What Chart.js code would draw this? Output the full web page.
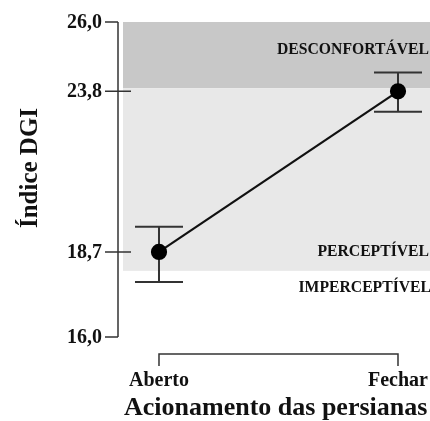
<!DOCTYPE html>
<html>
<head>
<meta charset="utf-8">
<script src="https://cdn.jsdelivr.net/npm/chart.js@4/dist/chart.umd.min.js"></script>
<style>
  html, body { margin: 0; padding: 0; background: #fff; }
  #wrap { width: 430px; height: 421px; }
</style>
</head>
<body>
<div id="wrap"><canvas id="dgiChart" width="430" height="421"></canvas></div>
<script>
// Data
const categories = ['Aberto', 'Fechar'];
const meanDGI = [18.7, 23.8];
const errLow = [17.75, 23.15];
const errHigh = [19.5, 24.4];

const yTickValues = [16.0, 18.7, 23.8, 26.0];
const yTickLabels = ['16,0', '18,7', '23,8', '26,0'];

const bandNames = ['DESCONFORTÁVEL', 'PERCEPTÍVEL'];
const bandFrom = [23.9, 18.1];
const bandTo = [26.0, 23.9];
const bandLabelValues = [25.1, 18.7];

const lowZoneName = 'IMPERCEPTÍVEL';
const lowZoneLabelValue = 17.56;

const serif = '"Liberation Serif", "DejaVu Serif", serif';

const figurePlugin = {
  id: 'figure',
  beforeDatasetsDraw(chart) {
    const { ctx, chartArea, scales: { x, y } } = chart;
    const bandColors = ['#c8c8c8', '#e8e8e8'];
    ctx.save();
    bandFrom.forEach((from, i) => {
      const top = y.getPixelForValue(bandTo[i]);
      const bottom = y.getPixelForValue(from);
      ctx.fillStyle = bandColors[i];
      ctx.fillRect(chartArea.left, top, chartArea.right - chartArea.left, bottom - top);
    });

    // band labels
    ctx.fillStyle = '#111';
    ctx.font = 'bold 15.7px ' + serif;
    ctx.textAlign = 'right';
    ctx.textBaseline = 'middle';
    bandNames.forEach((name, i) => {
      ctx.fillText(name, chartArea.right - 1, y.getPixelForValue(bandLabelValues[i]));
    });
    ctx.fillText(lowZoneName, chartArea.right + 1, y.getPixelForValue(lowZoneLabelValue));

    // error bars
    ctx.strokeStyle = '#333';
    ctx.lineWidth = 2;
    categories.forEach((c, i) => {
      const px = x.getPixelForValue(i);
      const lo = y.getPixelForValue(errLow[i]);
      const hi = y.getPixelForValue(errHigh[i]);
      ctx.beginPath();
      ctx.moveTo(px, hi); ctx.lineTo(px, lo);
      ctx.moveTo(px - 24, hi); ctx.lineTo(px + 24, hi);
      ctx.moveTo(px - 24, lo); ctx.lineTo(px + 24, lo);
      ctx.stroke();
    });
    ctx.restore();
  },
  afterDraw(chart) {
    const { ctx, chartArea, scales: { x, y } } = chart;
    ctx.save();
    ctx.strokeStyle = '#333';
    ctx.lineWidth = 1.5;

    // y axis line
    const axisX = chartArea.left - 5;
    const yTop = y.getPixelForValue(26);
    const yBot = y.getPixelForValue(16);
    ctx.beginPath();
    ctx.moveTo(axisX, yTop); ctx.lineTo(axisX, yBot);
    yTickValues.forEach((v) => {
      const py = y.getPixelForValue(v);
      const inner = (v === 16 || v === 26) ? axisX : axisX + 13;
      ctx.moveTo(axisX - 13, py); ctx.lineTo(inner, py);
    });
    ctx.stroke();

    ctx.fillStyle = '#111';
    ctx.font = 'bold 20px ' + serif;
    ctx.textAlign = 'right';
    ctx.textBaseline = 'middle';
    yTickValues.forEach((v, i) => {
      ctx.fillText(yTickLabels[i], axisX - 16, y.getPixelForValue(v) + 1);
    });

    // x axis bracket
    const bracketY = chartArea.bottom + 17;
    const x0 = x.getPixelForValue(0);
    const x1 = x.getPixelForValue(categories.length - 1);
    ctx.beginPath();
    ctx.moveTo(x0, bracketY + 12); ctx.lineTo(x0, bracketY);
    ctx.lineTo(x1, bracketY); ctx.lineTo(x1, bracketY + 12);
    ctx.stroke();

    ctx.textAlign = 'center';
    ctx.font = 'bold 20px ' + serif;
    categories.forEach((c, i) => {
      ctx.fillText(c, x.getPixelForValue(i), bracketY + 27);
    });

    // axis titles
    ctx.font = 'bold 26px ' + serif;
    ctx.textAlign = 'left';
    ctx.fillText('Acionamento das persianas', 124, bracketY + 54);

    ctx.translate(31, 168);
    ctx.rotate(-Math.PI / 2);
    ctx.textAlign = 'center';
    ctx.font = 'bold 25px ' + serif;
    ctx.fillText('Índice DGI', 0, 0);
    ctx.restore();
  }
};

new Chart(document.getElementById('dgiChart'), {
  type: 'line',
  data: {
    datasets: [{
      data: categories.map((c, i) => ({ x: i, y: meanDGI[i] })),
      borderColor: '#111',
      borderWidth: 2.2,
      pointBackgroundColor: '#000',
      pointBorderColor: '#000',
      pointRadius: 7,
      tension: 0,
      clip: false
    }]
  },
  options: {
    responsive: false,
    animation: false,
    layout: { autoPadding: false, padding: { left: 123, right: 0, top: 22, bottom: 84 } },
    scales: {
      x: { type: 'linear', min: -0.1506, max: 1.1339, display: false },
      y: { min: 16, max: 26, display: false }
    },
    plugins: { legend: { display: false }, tooltip: { enabled: false } }
  },
  plugins: [figurePlugin]
});
</script>
</body>
</html>
